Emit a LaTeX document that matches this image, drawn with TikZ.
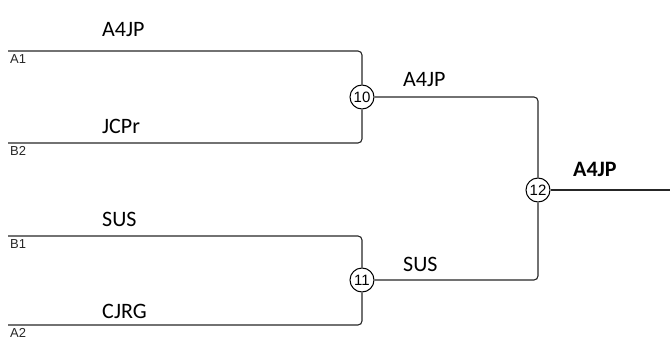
\documentclass[tikz,border=0pt]{standalone}
\usepackage{fontspec}
\setmainfont{Carlito}
\newfontfamily\arialf{Liberation Sans}
\begin{document}
\begin{tikzpicture}[x=1pt,y=-1pt,
  wire/.style={draw=black!85,line width=1.1pt,rounded corners=4pt},
  seed/.style={font=\arialf\fontsize{13}{13}\selectfont,anchor=base west,inner sep=0pt,text=black!85},
  team/.style={font=\fontsize{22}{22}\selectfont,anchor=base west,inner sep=0pt},
  game/.style={circle,draw=black,line width=1pt,minimum size=24pt,inner sep=0pt,fill=white,font=\arialf\fontsize{15}{15}\selectfont}]
\useasboundingbox (0,0) rectangle (670,343);
% circles
\node[game] (g10) at (362,97) {10};
\node[game] (g11) at (362,280) {11};
\node[game] (g12) at (538,190) {12};
% free ends
\coordinate (a1) at (8,51);
\coordinate (b2) at (8,143);
\coordinate (b1) at (8,236);
\coordinate (a2) at (8,325);
\coordinate (fin) at (670,190);
% wires
\draw[wire] (a1) -| (g10.north);
\draw[wire] (b2) -| (g10.south);
\draw[wire] (b1) -| (g11.north);
\draw[wire] (a2) -| (g11.south);
\draw[wire] (g10.east) -| (g12.north);
\draw[wire] (g11.east) -| (g12.south);
\draw[wire] (g12.east) -- (fin);
% seed labels
\node[seed] (s1) at (10,63) {A1};
\node[seed] (s2) at (10,155) {B2};
\node[seed] (s3) at (10,248) {B1};
\node[seed] (s4) at (10,337) {A2};
% team labels
\node[team] (t1) at (102,36) {A4JP};
\node[team] (t2) at (102,133) {JCPr};
\node[team] (t3) at (102,226) {SUS};
\node[team] (t4) at (102,318) {CJRG};
\node[team] (t5) at (403,86) {A4JP};
\node[team] (t6) at (403,271) {SUS};
\node[team,font=\bfseries\fontsize{22}{22}\selectfont] (t7) at (573,176) {A4JP};
\end{tikzpicture}
\end{document}
